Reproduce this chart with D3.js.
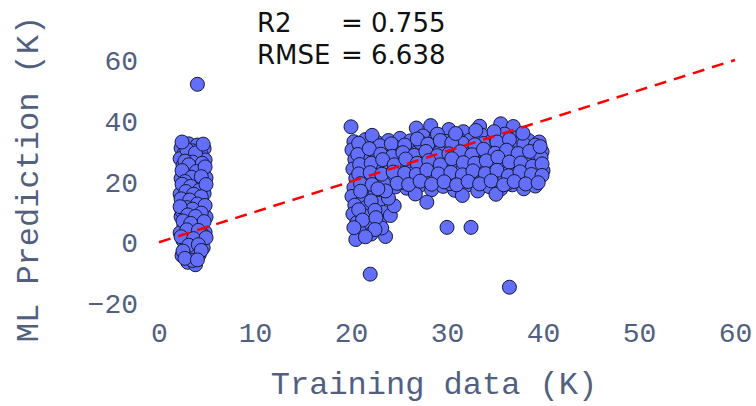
<!DOCTYPE html>
<html>
<head>
<meta charset="utf-8">
<script src="https://cdn.jsdelivr.net/npm/d3@7"></script>
<style>
  html, body { margin: 0; padding: 0; background: #fff; }
  .tick-label { font-family: "Courier New", "Liberation Mono", monospace; fill: #52607f; }
  .axis-title { font-family: "Courier New", "Liberation Mono", monospace; fill: #52607f; }
  .stat { font-family: "DejaVu Sans", sans-serif; font-size: 26px; fill: #111; }
</style>
</head>
<body>
<div id="chart"></div>
<script>
// values: [training data, ML prediction] in K
const xTicks = [0, 10, 20, 30, 40, 50, 60];
const yTicks = [-20, 0, 20, 40, 60];

const lowCluster = [
  [2.3, 31.0], [3.1, 32.4], [4.0, 32.0], [4.7, 30.8], [2.6, 29.2], [3.5, 30.1], [4.4, 28.9],
  [2.2, 27.5], [3.0, 27.9], [3.9, 26.8], [4.8, 27.1], [2.5, 25.3], [3.4, 24.6], [4.3, 25.7],
  [2.8, 22.9], [3.7, 22.1], [4.6, 23.4], [2.3, 21.0], [3.2, 20.2], [4.1, 19.8], [4.9, 21.2],
  [2.6, 18.1], [3.6, 17.4], [4.5, 18.6], [2.2, 15.9], [3.0, 15.2], [3.9, 14.7], [4.7, 16.0],
  [2.5, 13.0], [3.4, 12.3], [4.3, 13.5], [2.8, 10.6], [3.7, 9.8], [4.6, 10.9], [2.3, 8.4],
  [3.2, 7.6], [4.1, 7.1], [4.9, 8.3], [2.6, 5.5], [3.5, 4.8], [4.4, 5.9], [2.2, 3.1],
  [3.0, 2.4], [3.9, 2.0], [4.8, 3.3], [2.5, 0.6], [3.4, -0.1], [4.3, 0.9], [2.8, -2.2],
  [3.7, -2.9], [4.6, -1.8], [2.4, -4.4], [3.3, -5.1], [4.2, -4.0], [3.0, -6.6], [3.8, -7.4],
  [2.7, 12.8], [4.0, 24.0], [3.3, 28.5], [2.9, 18.9], [4.2, 11.6], [3.6, -3.5], [2.4, 10.2],
  [4.5, 2.6], [3.1, 22.7],
  [2.9, 30.5], [3.8, 29.4], [4.6, 32.3], [2.4, 33.0], [3.5, 26.4], [2.7, 26.7], [4.5, 26.0],
  [3.1, 25.5], [2.4, 23.6], [3.9, 23.3], [4.8, 24.8], [3.4, 21.4], [2.7, 20.0], [4.4, 21.6],
  [2.4, 19.1], [3.3, 18.4], [4.2, 17.1], [4.9, 19.0], [2.8, 16.7], [3.6, 15.8], [4.4, 15.0],
  [2.3, 14.3], [3.2, 13.9], [4.0, 12.6], [4.8, 12.1], [2.9, 11.4], [3.5, 10.9], [2.2, 11.7],
  [4.4, 9.6], [3.0, 9.0], [2.5, 7.0], [3.8, 8.5], [4.7, 6.8], [3.3, 6.2], [2.9, 4.1],
  [4.1, 3.9], [2.3, 1.8], [3.6, 1.2], [4.9, 1.5], [3.1, -1.0], [4.1, -0.8], [2.5, -2.9],
  [4.4, -2.7], [3.5, -6.0], [2.7, -5.3], [4.0, -5.8]
];

const highCluster = [
  [26.8, 37.6], [28.3, 38.4], [30.2, 37.1], [33.4, 38.2], [35.6, 39.0], [36.9, 38.1], [31.7, 36.4],
  [20.3, 33.1], [21.5, 33.8], [22.7, 32.9], [23.9, 33.5], [25.1, 34.2], [26.2, 33.4], [27.5, 35.0],
  [28.8, 34.1], [29.9, 33.2], [31.1, 34.5], [32.4, 33.6], [33.6, 35.3], [34.8, 34.0], [36.0, 35.6],
  [37.3, 34.4], [38.5, 33.5], [39.6, 33.0],
  [20.1, 30.4], [21.2, 29.7], [22.4, 30.9], [23.6, 30.1], [24.7, 31.2], [25.9, 30.3], [27.0, 31.5],
  [28.2, 30.6], [29.4, 31.8], [30.6, 30.2], [31.8, 31.4], [33.0, 30.5], [34.2, 31.9], [35.4, 30.8],
  [36.6, 32.0], [37.8, 30.9], [39.0, 31.3], [39.9, 29.8],
  [20.4, 27.3], [21.6, 26.6], [22.8, 27.8], [24.0, 26.9], [25.2, 28.1], [26.4, 27.2], [27.6, 28.4],
  [28.7, 26.7], [29.9, 27.9], [31.1, 28.5], [32.3, 27.0], [33.5, 28.3], [34.7, 27.4], [35.9, 28.7],
  [37.1, 27.5], [38.3, 28.2], [39.5, 26.9],
  [20.2, 24.1], [21.4, 23.5], [22.6, 24.6], [23.8, 23.8], [25.0, 24.9], [26.1, 23.9], [27.3, 25.2],
  [28.5, 24.3], [29.7, 23.6], [30.9, 25.0], [32.1, 24.4], [33.3, 25.6], [34.5, 24.2], [35.7, 25.3],
  [36.9, 24.0], [38.1, 25.4], [39.3, 24.5], [40.0, 23.6],
  [20.5, 21.0], [21.7, 20.3], [22.9, 21.5], [24.1, 20.6], [25.3, 21.8], [26.5, 20.4], [27.7, 21.9],
  [28.9, 20.8], [30.0, 21.4], [31.2, 20.1], [32.4, 21.7], [33.6, 20.9], [34.8, 22.0], [36.0, 20.7],
  [37.2, 21.6], [38.4, 20.5], [39.6, 21.3],
  [20.3, 18.0], [21.5, 17.4], [24.6, 18.2], [25.8, 17.8], [27.1, 18.6], [28.4, 17.3], [29.6, 18.4],
  [30.8, 17.1], [32.0, 18.7], [33.2, 16.9], [34.4, 18.3], [35.6, 17.5], [36.8, 18.9], [38.0, 17.6],
  [39.2, 18.5], [26.7, 15.9], [31.6, 15.4], [35.1, 15.8], [27.9, 13.2],
  [20.1, 15.1], [21.3, 14.6], [22.5, 15.8], [20.4, 12.2], [21.6, 11.5], [22.8, 12.9], [20.2, 9.3],
  [21.4, 8.7], [23.4, 9.8], [20.6, 6.4], [21.8, 5.6], [23.0, 6.9], [20.9, 3.5], [22.1, 2.7],
  [23.6, 1.9], [24.1, 8.8], [23.2, 4.7], [20.5, 0.9], [24.5, 12.0],
  [20.9, 31.9], [22.0, 28.5], [23.2, 25.8], [24.4, 29.0], [25.6, 26.0], [26.8, 29.4], [28.0, 22.8],
  [29.2, 29.6], [30.4, 26.1], [31.6, 32.6], [32.8, 22.9], [34.0, 29.7], [35.2, 26.3], [36.4, 22.8],
  [37.6, 32.7], [38.8, 26.6], [39.8, 27.9], [21.1, 22.3], [23.4, 19.4], [27.2, 32.9], [30.3, 19.3],
  [33.8, 32.5], [36.2, 19.2], [39.1, 22.7], [25.5, 19.6], [29.0, 35.6], [34.9, 36.4], [22.2, 35.2],
  [20.8, 32.6], [23.0, 31.8], [24.2, 32.4], [25.6, 32.0], [26.9, 34.0], [28.0, 32.3], [29.3, 33.5],
  [30.5, 32.7], [32.9, 32.1], [35.2, 33.0], [36.5, 33.8], [38.0, 32.3], [39.2, 32.0], [33.0, 36.8],
  [30.9, 35.8], [37.9, 35.9],
  [20.7, 28.9], [21.9, 30.8], [23.1, 29.0], [24.3, 28.3], [25.4, 29.5], [26.6, 28.6], [27.8, 29.9],
  [29.0, 28.5], [30.2, 29.1], [31.4, 29.8], [32.6, 28.8], [33.8, 30.6], [35.0, 29.3], [36.2, 30.3],
  [37.4, 29.2], [38.6, 29.9], [39.7, 31.5],
  [20.9, 25.6], [22.1, 26.0], [23.3, 27.2], [24.5, 25.5], [25.7, 27.4], [26.9, 26.0], [28.1, 26.9],
  [29.3, 25.5], [30.5, 27.5], [31.7, 26.2], [32.9, 26.0], [34.1, 26.8], [35.3, 28.0], [36.5, 26.4],
  [37.7, 26.1], [38.9, 25.0], [39.9, 25.8],
  [20.8, 22.5], [22.0, 22.9], [23.2, 22.4], [24.4, 23.1], [25.6, 22.7], [26.8, 22.3], [27.9, 23.8],
  [29.1, 22.5], [30.4, 23.0], [31.6, 22.2], [32.7, 23.5], [34.0, 22.6], [35.2, 23.7], [36.4, 21.9],
  [37.6, 23.2], [38.8, 22.3], [39.9, 22.0],
  [21.0, 19.3], [22.2, 19.0], [24.8, 19.4], [26.0, 19.0], [27.2, 20.1], [28.4, 19.1], [29.7, 19.9],
  [31.0, 18.9], [32.2, 20.0], [33.4, 19.2], [34.6, 20.2], [35.9, 18.9], [37.0, 20.0], [38.2, 19.2],
  [39.5, 19.6],
  [21.0, 16.8], [22.1, 13.6], [20.8, 10.7], [22.5, 10.5], [21.2, 7.3], [22.6, 8.1], [20.3, 4.8],
  [22.5, 4.2], [21.5, 1.8], [23.9, 14.5], [23.6, 16.9], [22.8, 17.6]
];

const outliers = [[4.0, 52.0], [20.0, 38.0], [22.0, -10.5], [30.0, 4.9], [32.5, 4.9], [36.5, -14.8]];

const identityLine = [[0, 0], [60, 60]];
const statNames = ['R2', 'RMSE'];
const statValues = ['0.755', '6.638'];

const width = 756;
const height = 406;

const svg = d3.select('#chart').append('svg')
  .attr('width', width)
  .attr('height', height);

const x = d3.scaleLinear().domain([0, 60]).range([159, 735]);
const y = d3.scaleLinear().domain([-20, 60]).range([303, 60]);

// Tick labels only, plotly style (no axis lines)
const minusFormat = (d) => d3.format('d')(d).replace('-', '\u2212');
const xAxis = d3.axisBottom(x).tickValues(xTicks).tickSize(0).tickPadding(0).tickFormat(minusFormat);
const yAxis = d3.axisLeft(y).tickValues(yTicks).tickSize(0).tickPadding(0).tickFormat(minusFormat);

const gx = svg.append('g')
  .attr('transform', 'translate(0, 322)')
  .call(xAxis);
gx.select('.domain').remove();
gx.selectAll('text')
  .attr('class', 'tick-label')
  .attr('dy', '0.71em')
  .attr('font-size', 28)
  .attr('fill', null);

const gy = svg.append('g')
  .attr('transform', 'translate(138, 0)')
  .call(yAxis);
gy.select('.domain').remove();
gy.selectAll('text')
  .attr('class', 'tick-label')
  .attr('dy', '0.34em')
  .attr('font-size', 28)
  .attr('fill', null);

// points
const allPoints = lowCluster.concat(highCluster, outliers);
svg.append('g')
  .selectAll('circle')
  .data(allPoints)
  .join('circle')
  .attr('cx', (d) => x(d[0]))
  .attr('cy', (d) => y(d[1]))
  .attr('r', 7)
  .attr('fill', 'rgb(99,110,250)')
  .attr('stroke', '#141a33')
  .attr('stroke-width', 1);

// y = x reference line
svg.append('path')
  .datum(identityLine)
  .attr('d', d3.line().x((d) => x(d[0])).y((d) => y(d[1])))
  .attr('fill', 'none')
  .attr('stroke', 'red')
  .attr('stroke-width', 2.5)
  .attr('stroke-dasharray', '12,8');

// axis titles
svg.append('text')
  .attr('class', 'axis-title')
  .attr('x', 434)
  .attr('y', 394)
  .attr('text-anchor', 'middle')
  .attr('font-size', 32)
  .text('Training data (K)');

svg.append('text')
  .attr('class', 'axis-title')
  .attr('transform', 'translate(38, 179) rotate(-90)')
  .attr('text-anchor', 'middle')
  .attr('font-size', 32)
  .text('ML Prediction (K)');

// fit statistics
const stats = svg.append('g');
statNames.forEach((name, i) => {
  stats.append('text').attr('class', 'stat')
    .attr('x', 257).attr('y', 32 + i * 32).text(name);
  stats.append('text').attr('class', 'stat')
    .attr('x', 341).attr('y', 32 + i * 32).text(`= ${statValues[i]}`);
});
</script>
</body>
</html>
